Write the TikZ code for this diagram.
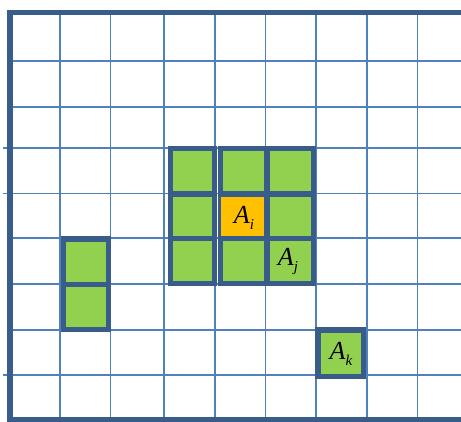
\documentclass[tikz,border=0pt]{standalone}
\usepackage{fontspec}
\setmainfont{Liberation Serif}
\usepackage{xcolor}
\usepackage{tikz}
\usetikzlibrary{positioning}

\definecolor{gridblue}{RGB}{79,129,189}
\definecolor{boxblue}{RGB}{56,93,138}
\definecolor{cellgreen}{RGB}{146,208,80}
\definecolor{cellorange}{RGB}{255,192,0}

\newcommand{\cellname}[2]{#1\raisebox{-6pt}{\fontsize{15}{15}\selectfont #2}}

\begin{document}
\begin{tikzpicture}[x=1pt, y=-1pt,
  gridline/.style={gridblue, line width=1.6pt},
  border/.style={boxblue, line width=5.5pt},
  block/.style={fill=cellgreen, draw=boxblue, line width=5.5pt},
  lbl/.style={font=\fontsize{26}{26}\selectfont\itshape, inner sep=0pt}]
\useasboundingbox (0,0) rectangle (461,422);

% background grid
\foreach \x in {60,110.5,164,215,265.5,316,367,417.5}
  \draw[gridline] (\x,12.5) -- (\x,419.5);
\foreach \y in {61,107,238,284,330}
  \draw[gridline] (10,\y) -- (461,\y);
\foreach \y in {148,193.5,375}
  \draw[gridline] (3,\y) -- (461,\y);

% outer frame (open on the right)
\draw[border, line join=miter] (461,12.5) -- (10,12.5) -- (10,419.5) -- (461,419.5);

% neighbourhood of A_i: one column plus a 2x3 block
\filldraw[block] (170.5,148.7) rectangle (214.5,283.3);
\draw[border] (170.5,194) -- (214.5,194);
\draw[border] (170.5,238.5) -- (214.5,238.5);

\filldraw[block] (220.5,148.7) rectangle (313.5,283.3);
\fill[cellorange] (220.5,194) rectangle (267,238.5);
\draw[border] (267,148.7) -- (267,283.3);
\draw[border] (220.5,194) -- (313.5,194);
\draw[border] (220.5,238.5) -- (313.5,238.5);

% small block on the left
\filldraw[block] (63.3,239) rectangle (108.3,329.7);
\draw[border] (63.3,284.3) -- (108.3,284.3);

% single cell A_k
\filldraw[block] (318,330) rectangle (363.3,376.3);

% labels
\node[lbl] (ai) at (244,218) {\cellname{A}{i}};
\node[lbl] (aj) at (288,262) {\cellname{A}{j}};
\node[lbl] (ak) at (341,354) {\cellname{A}{k}};
\end{tikzpicture}
\end{document}
